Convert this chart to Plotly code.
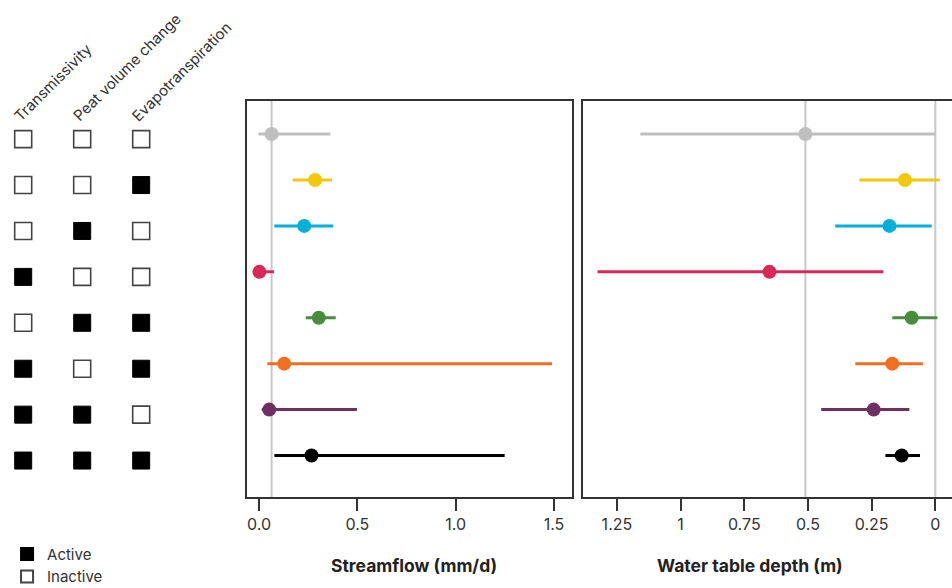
import plotly.graph_objects as go

# ---------------- data ----------------
scenarios = ["Baseline", "ET", "Peat", "Transmissivity", "Peat + ET",
             "Transmissivity + ET", "Transmissivity + Peat", "All"]
factors = ["Transmissivity", "Peat volume change", "Evapotranspiration"]
transmissivity = [0, 0, 0, 1, 0, 1, 1, 1]
peat_volume = [0, 0, 1, 0, 1, 0, 1, 1]
evapotranspiration = [0, 1, 0, 0, 1, 1, 0, 1]
colors = ["#bfbfbf", "#f2c70c", "#00b0d8", "#d92858", "#4a8c3f",
          "#f26f21", "#712f61", "#000000"]

sf_mean = [0.064, 0.285, 0.230, 0.002, 0.304, 0.128, 0.052, 0.267]
sf_low = [-0.003, 0.171, 0.078, 0.000, 0.238, 0.042, 0.014, 0.078]
sf_high = [0.363, 0.371, 0.376, 0.076, 0.390, 1.490, 0.498, 1.249]

wtd_mean = [0.51, 0.119, 0.180, 0.651, 0.093, 0.169, 0.242, 0.132]
wtd_low = [0.0, -0.018, 0.014, 0.204, -0.008, 0.049, 0.102, 0.060]
wtd_high = [1.158, 0.298, 0.393, 1.326, 0.169, 0.314, 0.448, 0.196]

sf_ticks = [0, 0.5, 1.0, 1.5]
sf_ticktext = ["0.0", "0.5", "1.0", "1.5"]
wtd_ticks = [1.25, 1, 0.75, 0.5, 0.25, 0]
wtd_ticktext = ["1.25", "1", "0.75", "0.5", "0.25", "0"]

# ---------------- figure ----------------
FONT = "Inter"
TXT = "#333333"
W, H = 952, 588
rows = list(range(1, len(scenarios) + 1))

fig = go.Figure()

# indicator matrix
flags = [transmissivity, peat_volume, evapotranspiration]
ax_x, ax_y, in_x, in_y = [], [], [], []
for j, col in enumerate(flags):
    for i, f in enumerate(col):
        if f:
            ax_x.append(j); ax_y.append(rows[i])
        else:
            in_x.append(j); in_y.append(rows[i])

fig.add_trace(go.Scatter(x=ax_x, y=ax_y, mode="markers", name="Active",
                         xaxis="x3", yaxis="y3",
                         marker=dict(symbol="square", size=17, color="black",
                                     line=dict(color="black", width=1)),
                         hoverinfo="skip"))
fig.add_trace(go.Scatter(x=in_x, y=in_y, mode="markers", name="Inactive",
                         xaxis="x3", yaxis="y3",
                         marker=dict(symbol="square-open", size=17, color="#444444",
                                     line=dict(color="#444444", width=1.6)),
                         hoverinfo="skip"))

# streamflow and water-table panels
for i in range(len(scenarios)):
    fig.add_trace(go.Scatter(
        x=[sf_mean[i]], y=[rows[i]], mode="markers", showlegend=False,
        xaxis="x", yaxis="y", name=scenarios[i],
        marker=dict(size=14, color=colors[i]),
        error_x=dict(type="data", symmetric=False,
                     array=[sf_high[i] - sf_mean[i]],
                     arrayminus=[sf_mean[i] - sf_low[i]],
                     color=colors[i], thickness=3, width=0)))
    fig.add_trace(go.Scatter(
        x=[wtd_mean[i]], y=[rows[i]], mode="markers", showlegend=False,
        xaxis="x2", yaxis="y2", name=scenarios[i],
        marker=dict(size=14, color=colors[i]),
        error_x=dict(type="data", symmetric=False,
                     array=[wtd_high[i] - wtd_mean[i]],
                     arrayminus=[wtd_mean[i] - wtd_low[i]],
                     color=colors[i], thickness=3, width=0)))

# reference lines
fig.add_shape(type="line", xref="x", yref="y domain", x0=sf_mean[0], x1=sf_mean[0],
              y0=0, y1=1, line=dict(color="#c8c8c8", width=2), layer="below")
fig.add_shape(type="line", xref="x2", yref="y2 domain", x0=wtd_mean[0], x1=wtd_mean[0],
              y0=0, y1=1, line=dict(color="#c8c8c8", width=2), layer="below")
fig.add_shape(type="line", xref="x2", yref="y2 domain", x0=0, x1=0,
              y0=0, y1=1, line=dict(color="#c8c8c8", width=2), layer="below")

ydom = [1 - 497.3 / H, 1 - 101 / H]
yrange = [8.91, 0.28]

axis_common = dict(showgrid=False, zeroline=False, ticks="outside", ticklen=12,
                   tickwidth=1.5, tickcolor="#333333", linecolor="#333333",
                   linewidth=1.5, showline=True,
                   tickfont=dict(family=FONT, size=16, color=TXT))

fig.update_layout(
    width=W, height=H,
    margin=dict(l=0, r=0, t=0, b=0, autoexpand=False),
    paper_bgcolor="white", plot_bgcolor="white",
    font=dict(family=FONT, color=TXT),
    xaxis=dict(domain=[247.3 / W, 571.7 / W], range=[-0.0595, 1.590],
               tickvals=sf_ticks, ticktext=sf_ticktext, mirror=True,
               anchor="y", **axis_common),
    yaxis=dict(domain=ydom, range=yrange, showticklabels=False, ticks="",
               showgrid=False, zeroline=False, showline=True, mirror=True,
               linecolor="#333333", linewidth=1.5, anchor="x"),
    xaxis2=dict(domain=[583.3 / W, 1.0], range=[1.382, -0.0655],
                tickvals=wtd_ticks, ticktext=wtd_ticktext, mirror=True,
                anchor="y2", **axis_common),
    yaxis2=dict(domain=ydom, range=yrange, showticklabels=False, ticks="",
                showgrid=False, zeroline=False, showline=True, mirror=False,
                linecolor="#333333", linewidth=1.5, anchor="x2"),
    xaxis3=dict(domain=[0, 0.2], range=[-0.393, 2.834], visible=False,
                anchor="y3"),
    yaxis3=dict(domain=ydom, range=[8.80, 0.17], visible=False, anchor="x3"),
    legend=dict(x=0.0074, y=-0.008, xanchor="left", yanchor="bottom",
                font=dict(family=FONT, size=15, color=TXT),
                itemsizing="constant", bgcolor="rgba(0,0,0,0)",
                tracegroupgap=0),
    showlegend=True,
)

# column headers
for j, name in enumerate(factors):
    fig.add_annotation(x=j, y=0.76, xref="x3", yref="y3", text=name,
                       showarrow=False, textangle=-45, xanchor="left",
                       yanchor="bottom", xshift=-16,
                       font=dict(family=FONT, size=15, color=TXT))

# axis titles
fig.add_annotation(x=414 / W, y=1 - 565 / H, xref="paper", yref="paper",
                   xanchor="center", yanchor="middle",
                   text="<b>Streamflow (mm/d)</b>", showarrow=False,
                   font=dict(family=FONT, size=17.5, color="#222222"))
fig.add_annotation(x=749.5 / W, y=1 - 565 / H, xref="paper", yref="paper",
                   xanchor="center", yanchor="middle",
                   text="<b>Water table depth (m)</b>", showarrow=False,
                   font=dict(family=FONT, size=17.5, color="#222222"))

fig.write_html("out.html")
